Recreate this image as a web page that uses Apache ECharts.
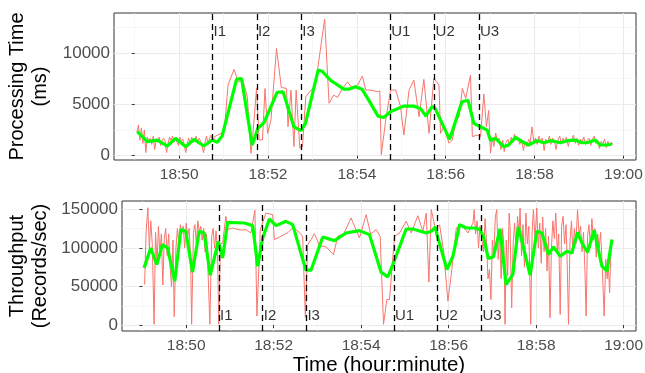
<!DOCTYPE html>
<html>
<head>
<meta charset="utf-8">
<script src="https://cdn.jsdelivr.net/npm/echarts@6.0.0/dist/echarts.min.js"></script>
<style>
html,body{margin:0;padding:0;background:#fff}
#chart{width:645px;height:373px}
</style>
</head>
<body>
<div id="chart"></div>
<script>
// time = seconds after 18:49:00
const timeTicks = [60, 180, 300, 420, 540, 660];
const timeMinorTicks = [0, 120, 240, 360, 480, 600];
const procTicks = [0, 5000, 10000];
const procMinorTicks = [2500, 7500, 12500];
const thruTicks = [0, 50000, 100000, 150000];
const thruMinorTicks = [25000, 75000, 125000];

const eventTimes = [105, 165, 225, 345, 405, 465];
const eventNames = ['I1', 'I2', 'I3', 'U1', 'U2', 'U3'];

// processing time (ms), raw batches
const procRaw = [
  [3,2300],[5,3000],[7,1500],[9,2700],[11,1200],[13,2500],[15,300],[17,1800],[19,1400],[21,1700],
  [23,1100],[25,1900],[27,600],[29,1600],[31,1300],[33,1800],[35,1000],[37,1500],[39,1700],[41,1400],
  [43,300],[45,1200],[47,1800],[49,1500],[51,1900],[53,1300],[55,1700],[57,1600],[59,1000],[61,1800],
  [63,1400],[65,1600],[67,1500],[69,300],[71,1200],[73,1700],[75,1100],[77,1800],[79,1300],[81,1600],
  [83,1900],[85,1200],[87,1700],[89,1400],[91,1500],[93,300],[95,1300],[97,1900],[99,1100],[101,1700],
  [103,2000],[105,1400],
  [108,1850],[112,2010],[116.5,2170],[121,2400],[126,6860],[134,8390],[140,7190],[146,7350],[152,5730],
  [157,230],[159,1530],[164.5,6540],[168,1530],[172.5,1530],[176,6540],[179.5,2170],[184,3470],
  [191.5,10420],[198,6640],[205,6540],[207,2820],[211,6380],[215,880],[218,6380],[223,720],[226.5,880],
  [231,5730],[238,6380],[243.5,6640],[256.5,13270],[262.5,5090],[268.5,5890],[274,5670],[280.5,6540],
  [287.5,7190],[294,6540],[301,6870],[307.5,7740],[312,6380],[319,6380],[328,6220],[331,6300],[333,100],
  [339,3470],[345.5,6380],[352.5,6380],[359,4760],[363.5,2010],[370.5,6380],[377,7350],[384,3790],
  [390.5,7420],[397.5,2170],[404,7510],[411,6870],[413,2170],[417.5,2820],[424.5,1200],[429,1530],
  [433.5,3310],[438,3790],[442.5,6540],[447,5570],[453.5,7840],[456,1850],[462.5,2010],[467,1850],
  [471.5,6000],[475,2820],[478,4400],[480.5,250],
  [483,1800],[485,900],[487.5,2200],[490,1400],[492,1700],[494.5,600],[497,1500],[499,400],[501.5,1300],
  [504,1600],[506,900],[508.5,1800],[511,1300],[513,2100],[515.5,1500],[518,1700],[520,1100],[522.5,1600],
  [525,500],[527,1400],[529.5,900],[532,1600],[534,1200],[536.5,2800],[539,1300],[541,1700],[543.5,1100],
  [546,1900],[548,1400],[550.5,1700],[553,500],[555,1600],[557.5,1200],[560,1900],[562,1100],[564.5,1700],
  [567,1400],[569,600],[571.5,1500],[574,1900],[576,1200],[578.5,1700],[581,1300],[583,1800],[585.5,900],
  [588,1600],[590,1400],[592.5,2000],[595,1200],[597,1700],[599.5,1000],[602,1600],[604,1300],[606.5,1800],
  [609,1100],[611,1500],[613.5,1700],[616,1000],[618,1600],[620.5,1900],[623,1200],[625,1500],[627.5,700],
  [630,1400],[632,1100],[634.5,1600],[637,800],[639,1400],[641.5,1000],[644,1300],[645.5,1100]
];

// processing time (ms), smoothed
const procSmooth = [
  [3.5,2330],[17,1360],[30.5,1520],[44,940],[55,1690],[69,875],[80,1590],[93.5,940],[104.7,1520],
  [111.4,1300],[118,1910],[137.6,7440],[144.3,7500],[158.6,1040],[166.3,2660],[174.4,3200],[192.3,6150],
  [200.4,6210],[214.9,2810],[224.7,2430],[230.6,3140],[247.7,8320],[253,8220],[264.4,7340],[282.3,6470],
  [289,6470],[298,6700],[307,6470],[316,5400],[328.6,3850],[336.3,3720],[345.3,4270],[363.2,4820],
  [376.7,4820],[385.7,4600],[393.3,3850],[401.4,4760],[405,4700],[425.3,1590],[441.9,5240],[450,5400],
  [458,3140],[467,2810],[476,2490],[480.6,1460],[487.3,1690],[498.5,875],[505,1040],[514.3,1780],
  [523.3,1360],[532,1040],[543.6,1460],[552.5,1260],[561.5,1460],[575,1260],[584,1460],[595,1520],
  [604,1260],[611,1260],[622,1520],[629,1040],[638,1040],[644.7,1140]
];

// throughput (records/sec), raw batches
const thruRaw = [
  [3,52500],[5,120000],[7.5,152000],[9.5,100000],[11.5,135000],[13.5,105000],[16,1000],[18,120000],
  [20,80000],[22,128000],[24,92000],[26,118000],[28,52000],[30,112000],[32,125000],[34,90000],[36,118000],
  [38,75000],[40,50000],[42,110000],[43.6,11000],[46,100000],[48,125000],[50,105000],[52,130000],
  [54,118000],[56,128000],[58,100000],[60,132000],[62,115000],[64,125000],[66,90000],[67.5,1000],
  [70,120000],[72,130000],[74,105000],[76,135000],[78,120000],[80,128000],[82,110000],[84,125000],
  [86,95000],[88,118000],[90,70000],[92.5,1000],[95,115000],[97,125000],[99,100000],[101,122000],
  [103,95000],[104.8,1000],
  [107,105000],[110,106400],[114.5,140800],[117,123600],[124,125750],[130,124000],[136,123000],
  [142,123600],[148.8,119300],[154.3,148600],[157.1,11600],[161.7,123600],[169.4,145100],[178.6,143000],
  [181,110700],[188,114000],[194.6,117100],[200,120000],[206,125750],[213,122000],[219.8,115000],
  [223.5,10000],[226.7,104200],[231.3,110700],[235.9,118400],[242.9,102900],[252,101200],[262,91300],
  [268,115000],[276,118000],[286.2,138700],[297.7,112800],[306.9,143000],[313,118000],[320.6,123600],
  [326.1,115000],[330.7,1000],[335.3,33150],[338.9,33150],[345.8,115000],[352.7,119300],[361.8,134400],
  [368.7,119300],[377.8,141700],[384.7,121400],[389.3,145100],[392.9,55500],[396.2,149400],[402.1,123600],
  [407.6,130000],[413.1,95600],[419,31000],[423.6,65450],[430.5,125750],[437.4,130000],[446.5,119300],
  [453.4,132200],
  [455,149400],[457,118000],[459,135000],[461,100000],[463,128000],[465.3,125750],[468,95000],[470,138000],
  [472,106400],[474,60000],[476,71900],[478,33000],[480,110000],[482,90000],[484,140000],[486,149400],
  [488,85000],[490,120000],[492,60000],[494,125000],[496,98000],[497.4,1000],[499,110000],[501,64000],
  [503,145000],[504.2,128000],[506.5,22400],[508.5,105000],[510.5,132000],[512.5,95000],[514.5,140800],
  [516.5,118000],[518,151600],[520,90000],[522,130000],[524,75000],[526,145000],[528,105000],[530,128000],
  [532.6,1000],[534.5,120000],[536.3,149400],[538.5,110000],[540.9,151600],[543,100000],[545,132000],
  [547,80000],[549,140000],[551,95000],[553,125000],[555,70000],[557,115000],[559.1,9500],[561,100000],
  [563,135000],[565,112000],[567,145000],[569,95000],[571,118000],[573,13800],[575,128000],[577,140800],
  [579,105000],[581,130000],[582.5,85000],[584.4,1000],[586.5,110000],[588.5,135000],[590.5,92000],
  [592.5,125000],[594.5,105000],[596.8,149400],[599,118000],[601,128000],[603,95000],[605,120000],
  [607,70000],[608.6,11600],[610.5,115000],[612.5,130000],[614.5,100000],[616.5,138000],[618.5,110000],
  [620.5,125000],[622.5,88000],[624.5,118000],[626.5,100000],[628.5,120000],[630.5,80000],[633.3,11600],
  [635.5,85000],[637.5,60000],[639,80000],[640.8,41800],[642.5,95000],[644,110700]
];

// throughput (records/sec), smoothed
const thruSmooth = [
  [2.3,74070],[11.4,99910],[19.7,78380],[27.5,104220],[34.4,99910],[44.4,56840],[52.7,123600],
  [59.5,121440],[68.7,68470],[77.9,121440],[84.8,119290],[93,64590],[104,108520],[110,86990],
  [116.9,133070],[139.8,132210],[151.2,128770],[158.1,76220],[165,112830],[174.1,137380],[183.3,128770],
  [197,134370],[206.1,130060],[215.3,99910],[224.4,71050],[231.3,71050],[247.3,114120],[263.3,109380],
  [279.3,119290],[297.7,122310],[311.4,117140],[327.4,68470],[336.6,62440],[343.5,78380],[361.8,124460],
  [371,124460],[389.3,119290],[396.2,121440],[402.1,127040],[404,117140],[417.7,71910],[425.9,89140],
  [435,130060],[444.2,125750],[456.2,125750],[463,123600],[467.6,114980],[474.5,86130],[481.4,88280],
  [490.5,124460],[498.8,52530],[508,65450],[515.7,127040],[531.8,64590],[541,121440],[547.8,119290],
  [557,91300],[563.8,101200],[573,89140],[582.1,95600],[589,93450],[596.8,120150],[602.8,106370],
  [610.5,94300],[619.7,122730],[630.2,76220],[637.1,69760],[644,110680]
];

function fmtTime(t) {
  let m = 18 * 60 + 49 + Math.round(t / 60);
  let h = Math.floor(m / 60);
  let mm = m % 60;
  return h + ':' + (mm < 10 ? '0' + mm : mm);
}

const FONT = '"Liberation Sans", Arial, sans-serif';
const majorGrid = {color: '#EBEBEB', width: 1.1};
const minorGrid = {color: '#F2F2F2', width: 0.6};
const titleStyle = {fontSize: 20, color: '#000', fontFamily: FONT, lineHeight: 23};

function mainX(grid, extra) {
  return Object.assign({
    gridIndex: grid, type: 'value', min: -28, max: 677,
    axisLine: {show: false},
    axisTick: {show: true, length: 3, lineStyle: {color: '#333', width: 1}, customValues: timeTicks},
    axisLabel: {customValues: timeTicks, formatter: fmtTime, margin: 7,
                color: '#4D4D4D', fontSize: 15.5, fontFamily: FONT},
    splitLine: {show: true, lineStyle: majorGrid}
  }, extra || {});
}
function minorX(grid) {
  return {
    gridIndex: grid, type: 'value', min: -28, max: 677,
    axisLine: {show: false},
    axisTick: {show: false, customValues: timeMinorTicks},
    axisLabel: {show: false, customValues: timeMinorTicks},
    splitLine: {show: true, lineStyle: minorGrid}
  };
}
function mainY(grid, min, max, ticks, name, gap) {
  return {
    gridIndex: grid, type: 'value', min: min, max: max,
    axisLine: {show: false},
    axisTick: {show: true, length: 3, lineStyle: {color: '#333', width: 1}, customValues: ticks},
    axisLabel: {customValues: ticks, formatter: v => String(v), margin: 4,
                color: '#4D4D4D', fontSize: 17, fontFamily: FONT},
    splitLine: {show: true, lineStyle: majorGrid},
    name: name, nameLocation: 'middle', nameRotate: 90, nameGap: gap, nameMoveOverlap: false,
    nameTextStyle: titleStyle
  };
}
function minorY(grid, min, max, ticks) {
  return {
    gridIndex: grid, type: 'value', min: min, max: max,
    axisLine: {show: false},
    axisTick: {show: false, customValues: ticks},
    axisLabel: {show: false, customValues: ticks},
    splitLine: {show: true, lineStyle: minorGrid}
  };
}

function eventSeries(xi, yi, labelY) {
  return {
    type: 'scatter', xAxisIndex: xi, yAxisIndex: yi, z: 3,
    symbolSize: 0, silent: true,
    data: eventTimes.map((t, i) => ({value: [t, labelY], name: eventNames[i]})),
    label: {show: true, position: 'right', distance: 1, formatter: p => p.name,
            color: '#000', fontSize: 15, fontFamily: FONT},
    markLine: {
      silent: true, symbol: ['none', 'none'], label: {show: false},
      lineStyle: {color: '#000', width: 1.3, type: [6, 4]},
      data: eventTimes.map(t => ({xAxis: t}))
    }
  };
}

const chart = echarts.init(document.getElementById('chart'), null, {renderer: 'canvas'});
chart.setOption({
  animation: false,
  backgroundColor: '#fff',
  grid: [
    {left: 114, right: 9, top: 13, height: 147, show: true, borderColor: '#333', borderWidth: 1,
     backgroundColor: '#fff', containLabel: false, outerBoundsMode: 'none'},
    {left: 122, right: 9, top: 201, height: 130, show: true, borderColor: '#333', borderWidth: 1,
     backgroundColor: '#fff', containLabel: false, outerBoundsMode: 'none'}
  ],
  xAxis: [
    mainX(0), minorX(0),
    mainX(1, {name: 'Time (hour:minute)', nameLocation: 'middle', nameGap: 22,
              nameTextStyle: {fontSize: 20.5, color: '#000', fontFamily: FONT}}),
    minorX(1)
  ],
  yAxis: [
    mainY(0, -420, 13880, procTicks, 'Processing Time\n(ms)', 62),
    minorY(0, -420, 13880, procMinorTicks),
    mainY(1, -7700, 160700, thruTicks, 'Throughput\n(Records/sec)', 70),
    minorY(1, -7700, 160700, thruMinorTicks)
  ],
  series: [
    {type: 'line', xAxisIndex: 0, yAxisIndex: 0, data: procRaw, symbol: 'none', z: 2,
     lineStyle: {color: '#F8766D', width: 1}},
    eventSeries(0, 0, 12000),
    {type: 'line', xAxisIndex: 0, yAxisIndex: 0, data: procSmooth, symbol: 'none', z: 4,
     lineStyle: {color: '#00FF00', width: 3.2}},
    {type: 'line', xAxisIndex: 2, yAxisIndex: 2, data: thruRaw, symbol: 'none', z: 2,
     lineStyle: {color: '#F8766D', width: 1}},
    eventSeries(2, 2, 11500),
    {type: 'line', xAxisIndex: 2, yAxisIndex: 2, data: thruSmooth, symbol: 'none', z: 4,
     lineStyle: {color: '#00FF00', width: 3.2}}
  ]
});
</script>
</body>
</html>
